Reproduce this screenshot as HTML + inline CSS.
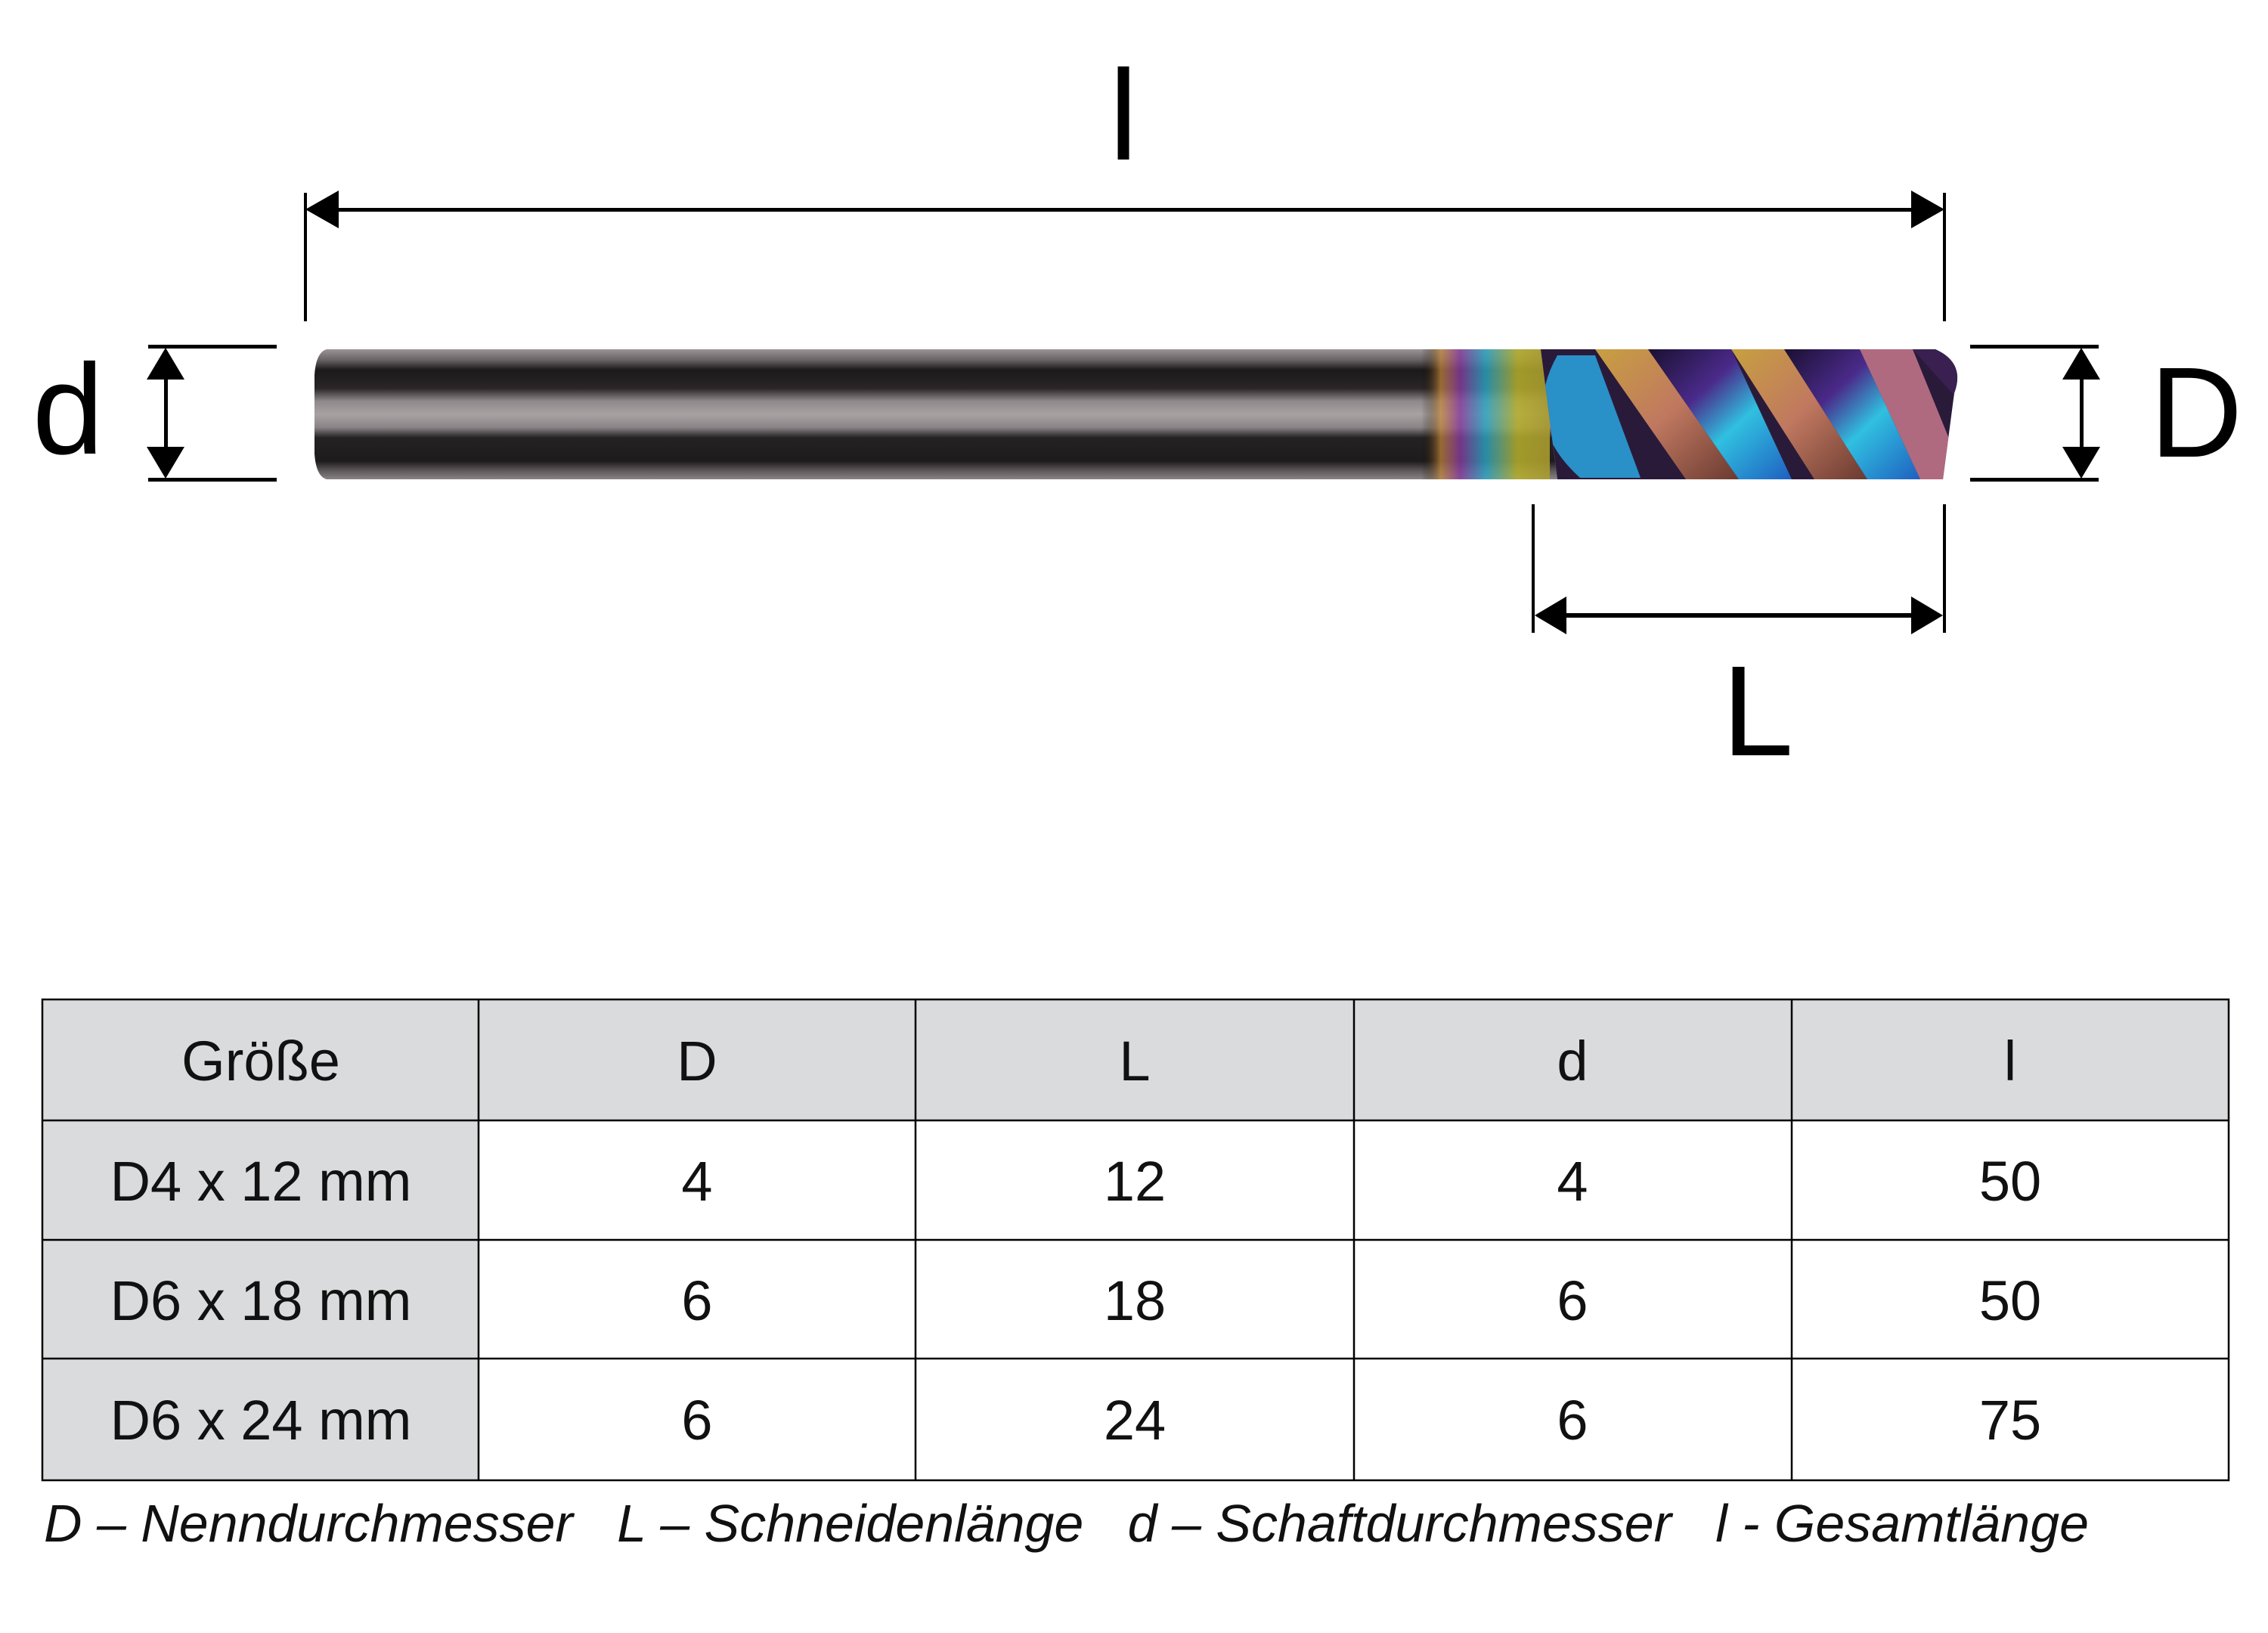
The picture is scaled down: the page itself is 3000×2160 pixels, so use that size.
<!DOCTYPE html>
<html><head><meta charset="utf-8"><style>html,body{margin:0;padding:0;background:#fff}svg{display:block}</style></head>
<body>
<svg width="3000" height="2160" viewBox="0 0 3000 2160" xmlns="http://www.w3.org/2000/svg" font-family="'Liberation Sans', sans-serif">
<defs>
<linearGradient id="shank" x1="0" y1="0" x2="0" y2="1">
<stop offset="0" stop-color="#9a9496"/><stop offset="0.08" stop-color="#6a6466"/>
<stop offset="0.16" stop-color="#1c191a"/><stop offset="0.3" stop-color="#2a2627"/>
<stop offset="0.4" stop-color="#8f898b"/><stop offset="0.5" stop-color="#a8a2a3"/>
<stop offset="0.6" stop-color="#8a8486"/><stop offset="0.68" stop-color="#252223"/>
<stop offset="0.86" stop-color="#1e1b1c"/><stop offset="0.93" stop-color="#5a5557"/><stop offset="1" stop-color="#8a8486"/>
</linearGradient>
<linearGradient id="rain" x1="0" y1="0" x2="1" y2="0">
<stop offset="0" stop-color="#000" stop-opacity="0"/><stop offset="0.15" stop-color="#c98a3a" stop-opacity="0.7"/>
<stop offset="0.3" stop-color="#8a3aa0" stop-opacity="0.8"/><stop offset="0.5" stop-color="#2aa7c8" stop-opacity="0.8"/>
<stop offset="0.75" stop-color="#b8b02a" stop-opacity="0.85"/><stop offset="1" stop-color="#a89a30" stop-opacity="0.9"/>
</linearGradient>
<linearGradient id="blue" x1="0" y1="0" x2="1" y2="1">
<stop offset="0" stop-color="#1a1030"/><stop offset="0.35" stop-color="#4a2a8a"/><stop offset="0.6" stop-color="#30c0e0"/><stop offset="1" stop-color="#1f5fc0"/>
</linearGradient>
<linearGradient id="copper" x1="0" y1="0" x2="1" y2="1">
<stop offset="0" stop-color="#c8a040"/><stop offset="0.5" stop-color="#c07860"/><stop offset="1" stop-color="#6a3a30"/>
</linearGradient>
<clipPath id="flute"><path d="M2038 462 L2560 462 Q2600 480 2585 520 L2570 634 L2060 634 Z"/></clipPath>
</defs>

<text x="1486" y="211" font-size="170" text-anchor="middle">l</text>
<rect x="402" y="255" width="4" height="170" fill="#000"/>
<rect x="2570" y="255" width="4" height="170" fill="#000"/>
<rect x="440" y="275" width="2096" height="5" fill="#000"/>
<path d="M404 277 L448 252 L448 302 Z" fill="#000"/>
<path d="M2572 277 L2528 252 L2528 302 Z" fill="#000"/>

<text x="90" y="600" font-size="170" text-anchor="middle">d</text>
<rect x="196" y="456" width="170" height="5" fill="#000"/>
<rect x="196" y="632" width="170" height="5" fill="#000"/>
<rect x="217" y="495" width="5" height="100" fill="#000"/>
<path d="M219 460 L194 502 L244 502 Z" fill="#000"/>
<path d="M219 633 L194 591 L244 591 Z" fill="#000"/>

<text x="2905" y="604" font-size="170" text-anchor="middle">D</text>
<rect x="2606" y="456" width="170" height="5" fill="#000"/>
<rect x="2606" y="632" width="170" height="5" fill="#000"/>
<rect x="2751" y="495" width="5" height="100" fill="#000"/>
<path d="M2753 460 L2728 502 L2778 502 Z" fill="#000"/>
<path d="M2753 633 L2728 591 L2778 591 Z" fill="#000"/>

<rect x="2026" y="667" width="4" height="170" fill="#000"/>
<rect x="2570" y="667" width="4" height="170" fill="#000"/>
<rect x="2060" y="811" width="480" height="6" fill="#000"/>
<path d="M2030 814 L2072 789 L2072 839 Z" fill="#000"/>
<path d="M2570 814 L2528 789 L2528 839 Z" fill="#000"/>
<text x="2325" y="999" font-size="170" text-anchor="middle">L</text>

<path d="M432 462 L2038 462 L2060 634 L432 634 Q418 630 416 600 L416 496 Q418 466 432 462 Z" fill="url(#shank)"/>
<rect x="1880" y="462" width="170" height="172" fill="url(#rain)"/>
<g clip-path="url(#flute)">
<rect x="2038" y="462" width="560" height="172" fill="#2a1a3a"/>
<path d="M2060 470 Q2010 560 2090 632 L2170 632 L2110 470 Z" fill="#2a90c8"/>
<path d="M2110 462 L2180 462 L2300 634 L2230 634 Z" fill="url(#copper)"/>
<path d="M2180 462 L2290 462 L2370 634 L2300 634 Z" fill="url(#blue)"/>
<path d="M2290 462 L2360 462 L2470 634 L2400 634 Z" fill="url(#copper)"/>
<path d="M2360 462 L2460 462 L2540 634 L2470 634 Z" fill="url(#blue)"/>
<path d="M2460 462 L2530 462 L2600 634 L2540 634 Z" fill="#b06a80"/>
<path d="M2530 462 L2600 462 L2600 540 Z" fill="#3a2050"/>
</g>

<rect x="56" y="1322" width="2892" height="160" fill="#dadbdc"/>
<rect x="56" y="1482" width="577" height="476" fill="#dadbdc"/>
<g stroke="#000" stroke-width="2.5" fill="none">
<rect x="56" y="1322" width="2892" height="636"/>
<line x1="56" y1="1482" x2="2948" y2="1482"/>
<line x1="56" y1="1640" x2="2948" y2="1640"/>
<line x1="56" y1="1797" x2="2948" y2="1797"/>
<line x1="633" y1="1322" x2="633" y2="1958"/>
<line x1="1211" y1="1322" x2="1211" y2="1958"/>
<line x1="1791" y1="1322" x2="1791" y2="1958"/>
<line x1="2370" y1="1322" x2="2370" y2="1958"/>
</g>
<g font-size="74" text-anchor="middle" fill="#111">
<text x="345" y="1429">Größe</text><text x="922" y="1429">D</text><text x="1501" y="1429">L</text><text x="2080" y="1429">d</text><text x="2659" y="1429">l</text>
<text x="345" y="1588">D4 x 12 mm</text><text x="922" y="1588">4</text><text x="1501" y="1588">12</text><text x="2080" y="1588">4</text><text x="2659" y="1588">50</text>
<text x="345" y="1746">D6 x 18 mm</text><text x="922" y="1746">6</text><text x="1501" y="1746">18</text><text x="2080" y="1746">6</text><text x="2659" y="1746">50</text>
<text x="345" y="1904">D6 x 24 mm</text><text x="922" y="1904">6</text><text x="1501" y="1904">24</text><text x="2080" y="1904">6</text><text x="2659" y="1904">75</text>
</g>
<text x="58" y="2039" font-size="70" font-style="italic" fill="#111" xml:space="preserve" textLength="2705" lengthAdjust="spacingAndGlyphs">D – Nenndurchmesser   L – Schneidenlänge   d – Schaftdurchmesser   l - Gesamtlänge</text>
</svg>
</body></html>
